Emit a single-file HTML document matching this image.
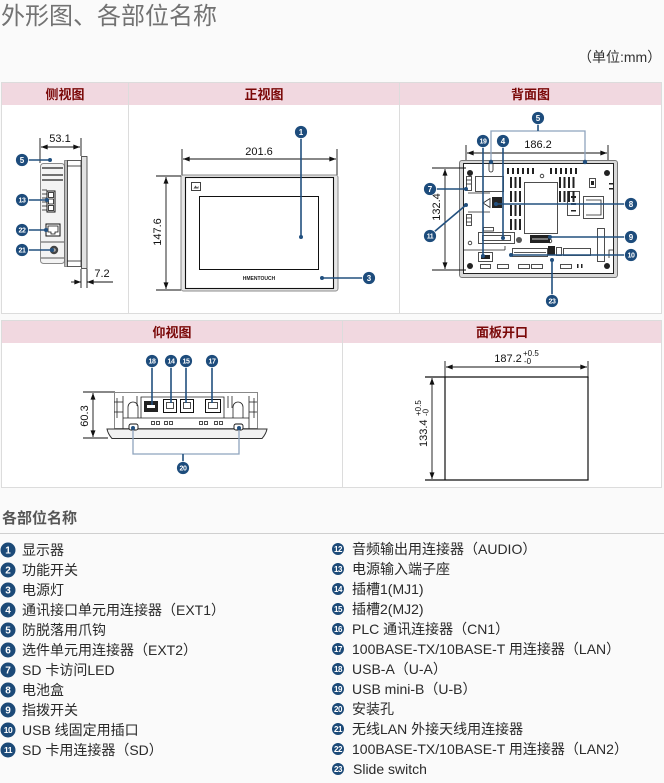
<!DOCTYPE html>
<html><head><meta charset="utf-8">
<style>
html,body{margin:0;padding:0;}
body{width:664px;height:783px;position:relative;overflow:hidden;background:#fafafa;font-family:"Liberation Sans","Noto Sans CJK SC",sans-serif;color:#2a2a2a;}
.abs{position:absolute;}
.title{left:1px;top:1px;font-size:24px;color:#727272;line-height:31px;white-space:nowrap;}
.unit{left:578px;top:47px;font-size:14px;line-height:20px;color:#333;white-space:nowrap;}
.tbl{position:absolute;background:#fff;border:1px solid #dcdcdc;box-sizing:border-box;}
.hd{position:absolute;top:0;height:22px;background:#f1d8e0;color:#7a0808;font-weight:bold;font-size:13px;line-height:23px;text-align:center;font-family:"Liberation Sans","Noto Sans CJK SC",sans-serif;}
.vl{position:absolute;top:0;bottom:0;width:1px;background:#dcdcdc;}
.lg{position:absolute;font-size:14px;line-height:20px;white-space:nowrap;color:#2a2a2a;}
.lt{position:absolute;left:2px;top:508px;font-size:15px;font-weight:bold;color:#555;line-height:22px;}
.rule{position:absolute;left:0;top:533px;width:664px;height:1px;background:#cfcfcf;}
svg text{font-family:"Liberation Sans","Noto Sans CJK SC",sans-serif;}
.cc{fill:#1d4c7c;stroke:#fff;stroke-width:.8}
.ct{fill:#fff;font-size:8px;font-weight:bold;text-anchor:middle}
.ct2{fill:#fff;font-size:7px;font-weight:bold;text-anchor:middle;letter-spacing:-0.4px}
.cl{stroke:#22507f;stroke-width:1.6;fill:none}
.cd{fill:#22507f}
.dm{stroke:#111;stroke-width:.9;fill:none}
.dt{font-size:11px;fill:#111}
.k{stroke:#222;stroke-width:.8;fill:none}
.kf{fill:#222}
.lc{fill:#1c4a78}
.ln{fill:#fff;font-size:10px;font-weight:bold;text-anchor:middle}
.ln2{fill:#fff;font-size:8.5px;font-weight:bold;text-anchor:middle;letter-spacing:-0.5px}
.rn{fill:#fff;font-size:8px;font-weight:bold;text-anchor:middle;letter-spacing:-0.4px}
</style></head><body>

<div class="abs title">外形图、各部位名称</div>
<div class="abs unit">（单位:mm）</div>

<div class="tbl" style="left:1px;top:82px;width:661px;height:232px;">
  <div class="hd" style="left:0;width:126px;">侧视图</div>
  <div class="hd" style="left:127px;width:270px;">正视图</div>
  <div class="hd" style="left:398px;width:261px;">背面图</div>
  <div class="vl" style="left:126px;"></div>
  <div class="vl" style="left:397px;"></div>
</div>

<div class="tbl" style="left:1px;top:320px;width:661px;height:168px;">
  <div class="hd" style="left:0;width:340px;">仰视图</div>
  <div class="hd" style="left:341px;width:318px;">面板开口</div>
  <div class="vl" style="left:340px;"></div>
</div>

<div class="lt">各部位名称</div>
<div class="rule"></div>

<div class="lg" style="left:22px;top:540px;">显示器</div>
<div class="lg" style="left:22px;top:560px;">功能开关</div>
<div class="lg" style="left:22px;top:580px;">电源灯</div>
<div class="lg" style="left:22px;top:600px;">通讯接口单元用连接器（EXT1）</div>
<div class="lg" style="left:22px;top:620px;">防脱落用爪钩</div>
<div class="lg" style="left:22px;top:640px;">选件单元用连接器（EXT2）</div>
<div class="lg" style="left:22px;top:660px;">SD 卡访问LED</div>
<div class="lg" style="left:22px;top:680px;">电池盒</div>
<div class="lg" style="left:22px;top:700px;">指拨开关</div>
<div class="lg" style="left:22px;top:720px;">USB 线固定用插口</div>
<div class="lg" style="left:22px;top:740px;">SD 卡用连接器（SD）</div>

<div class="lg" style="left:352px;top:539px;">音频输出用连接器（AUDIO）</div>
<div class="lg" style="left:352px;top:559px;">电源输入端子座</div>
<div class="lg" style="left:352px;top:579px;">插槽1(MJ1)</div>
<div class="lg" style="left:352px;top:599px;">插槽2(MJ2)</div>
<div class="lg" style="left:352px;top:619px;">PLC 通讯连接器（CN1）</div>
<div class="lg" style="left:352px;top:639px;">100BASE-TX/10BASE-T 用连接器（LAN）</div>
<div class="lg" style="left:352px;top:659px;">USB-A（U-A）</div>
<div class="lg" style="left:352px;top:679px;">USB mini-B（U-B）</div>
<div class="lg" style="left:352px;top:699px;">安装孔</div>
<div class="lg" style="left:352px;top:719px;">无线LAN 外接天线用连接器</div>
<div class="lg" style="left:352px;top:739px;">100BASE-TX/10BASE-T 用连接器（LAN2）</div>
<div class="lg" style="left:353px;top:759px;">Slide switch</div>

<svg class="abs" style="left:0;top:0" width="664" height="783" viewBox="0 0 664 783" xmlns="http://www.w3.org/2000/svg">
<defs>
<marker id="ar" viewBox="0 0 8 6" refX="8" refY="3" markerWidth="7" markerHeight="5" markerUnits="userSpaceOnUse" orient="auto-start-reverse"><path d="M0,0L8,3L0,6z" fill="#111"/></marker>
</defs>

<!-- ================= SIDE VIEW ================= -->
<line class="dm" x1="40" y1="138" x2="40" y2="163"/>
<line class="dm" x1="81" y1="138" x2="81" y2="156"/>
<line class="dm" x1="41" y1="147" x2="80" y2="147" marker-start="url(#ar)" marker-end="url(#ar)"/>
<text class="dt" x="60" y="142" text-anchor="middle">53.1</text>

<rect x="40.5" y="163.5" width="24" height="100" rx="3" fill="#f3f3f3" stroke="#8a8a8a"/>
<rect x="64.5" y="160.5" width="3" height="106" fill="#bbb" stroke="#555" stroke-width=".6"/>
<rect x="67.5" y="160.5" width="13.5" height="106" fill="#fff" stroke="#333" stroke-width=".8"/>
<line class="k" x1="67" y1="166" x2="81" y2="166"/>
<line class="k" x1="67" y1="261" x2="81" y2="261"/>
<rect x="81.5" y="156.5" width="5.5" height="112" fill="#e2e2e2" stroke="#333" stroke-width=".8"/>
<line x1="42" y1="168" x2="63" y2="168" stroke="#222" stroke-width="1.2"/>
<line x1="42" y1="175" x2="63" y2="175" stroke="#222" stroke-width="1.2"/>
<line x1="42" y1="180" x2="63" y2="180" stroke="#222" stroke-width="1.2"/>
<line class="k" x1="42" y1="190" x2="47" y2="190"/>
<line class="k" x1="42" y1="194" x2="47" y2="194"/>
<line class="k" x1="42" y1="198" x2="47" y2="198"/>
<line class="k" x1="42" y1="202" x2="47" y2="202"/>
<line class="k" x1="42" y1="206" x2="47" y2="206"/>
<line class="k" x1="42" y1="210" x2="47" y2="210"/>
<rect x="47" y="191" width="8" height="21" fill="#fff" stroke="#111" stroke-width="1"/>
<rect x="48.5" y="192.5" width="5" height="5" fill="#fff" stroke="#111" stroke-width=".8"/>
<rect x="48.5" y="199" width="5" height="5" fill="#fff" stroke="#111" stroke-width=".8"/>
<rect x="48.5" y="205.5" width="5" height="5" fill="#fff" stroke="#111" stroke-width=".8"/>
<rect x="46" y="224" width="14" height="12" fill="#fff" stroke="#111" stroke-width="1"/>
<path d="M48,226h10v6h-3v2h-4v-2h-3z" fill="none" stroke="#111" stroke-width=".8"/>
<line class="k" x1="41" y1="242" x2="64" y2="242"/>
<circle cx="54" cy="250" r="4.2" fill="#444"/>
<circle cx="54" cy="250" r="1.8" fill="#aaa"/>
<line class="k" x1="41" y1="258" x2="64" y2="258"/>

<line class="dm" x1="81" y1="269" x2="81" y2="288"/>
<line class="dm" x1="87" y1="269" x2="87" y2="288"/>
<line class="dm" x1="71" y1="282" x2="81" y2="282" marker-end="url(#ar)"/>
<line class="dm" x1="113" y1="282" x2="87" y2="282" marker-end="url(#ar)"/>
<text class="dt" x="102" y="277" text-anchor="middle">7.2</text>

<line class="cl" x1="28" y1="160" x2="50" y2="160"/><circle class="cd" cx="50" cy="160" r="2"/>
<line class="cl" x1="28" y1="200" x2="47" y2="200"/><circle class="cd" cx="47" cy="200" r="2"/>
<line class="cl" x1="28" y1="230" x2="46" y2="230"/><circle class="cd" cx="46" cy="230" r="2"/>
<line class="cl" x1="28" y1="250" x2="52" y2="250"/><circle class="cd" cx="52" cy="250" r="2"/>
<circle class="cc" cx="22" cy="160" r="6.5"/><text class="ct" x="22" y="162.8">5</text>
<circle class="cc" cx="22" cy="200" r="6.5"/><text class="ct2" x="22" y="202.5">13</text>
<circle class="cc" cx="22" cy="230" r="6.5"/><text class="ct2" x="22" y="232.5">22</text>
<circle class="cc" cx="22" cy="250" r="6.5"/><text class="ct2" x="22" y="252.5">21</text>

<!-- ================= FRONT VIEW ================= -->
<line class="dm" x1="182" y1="149" x2="182" y2="175"/>
<line class="dm" x1="337" y1="149" x2="337" y2="175"/>
<line class="dm" x1="183" y1="159" x2="336" y2="159" marker-start="url(#ar)" marker-end="url(#ar)"/>
<text class="dt" x="259" y="155" text-anchor="middle">201.6</text>

<rect x="181" y="175" width="157" height="116" rx="2.5" fill="#e6e6e6" stroke="#8c8c8c" stroke-width="1"/>
<rect x="185.5" y="177.5" width="148" height="111" fill="#fff" stroke="#111" stroke-width="1.1"/>
<rect x="199.5" y="196.5" width="119" height="73" fill="#fff" stroke="#111" stroke-width="1"/>
<rect x="191.5" y="182.5" width="9" height="8" fill="#fff" stroke="#111" stroke-width=".8"/>
<path d="M193.5,188.5l2,-3l1.5,2l1.5,-1.5v2.5z" fill="#555"/>
<text x="259" y="280" font-size="5" font-weight="bold" text-anchor="middle" fill="#222">HMENTOUCH</text>

<line class="dm" x1="156" y1="176" x2="181" y2="176"/>
<line class="dm" x1="156" y1="290" x2="181" y2="290"/>
<line class="dm" x1="166" y1="177" x2="166" y2="289" marker-start="url(#ar)" marker-end="url(#ar)"/>
<text class="dt" transform="translate(161,232) rotate(-90)" text-anchor="middle">147.6</text>

<line class="cl" x1="301" y1="138" x2="301" y2="237"/><circle class="cd" cx="301" cy="237" r="2"/>
<line class="cl" x1="363" y1="278" x2="322" y2="278"/><circle class="cd" cx="322" cy="278" r="2"/>
<circle class="cc" cx="301" cy="132" r="6.5"/><text class="ct" x="301" y="134.8">1</text>
<circle class="cc" cx="369" cy="278" r="6.5"/><text class="ct" x="369" y="280.8">3</text>

<!-- ================= BACK VIEW ================= -->
<line class="dm" x1="466" y1="145" x2="466" y2="163"/>
<line class="dm" x1="608" y1="145" x2="608" y2="163"/>
<line class="dm" x1="467" y1="153" x2="607" y2="153" marker-start="url(#ar)" marker-end="url(#ar)"/>
<text class="dt" x="538" y="148" text-anchor="middle">186.2</text>

<rect x="459.5" y="160.5" width="158" height="117" rx="2.5" fill="#d9d9d9" stroke="#777"/>
<rect x="463.5" y="163.5" width="150" height="110" fill="#fff" stroke="#222" stroke-width="1"/>

<line class="dm" x1="432" y1="168" x2="466" y2="168"/>
<line class="dm" x1="432" y1="270" x2="466" y2="270"/>
<line class="dm" x1="445" y1="169" x2="445" y2="269" marker-start="url(#ar)" marker-end="url(#ar)"/>
<text class="dt" transform="translate(440,207) rotate(-90)" text-anchor="middle">132.4</text>

<circle class="kf" cx="470" cy="173" r="3"/>
<circle class="kf" cx="607" cy="173" r="3"/>
<circle class="kf" cx="470" cy="266" r="3"/>
<circle class="kf" cx="607" cy="266" r="3"/>
<g class="kf">
<rect x="507" y="168" width="2" height="6"/><rect x="512" y="168" width="2" height="6"/><rect x="517" y="168" width="2" height="6"/><rect x="522" y="168" width="2" height="6"/><rect x="527" y="168" width="2" height="6"/><rect x="532" y="168" width="2" height="6"/>
<rect x="550" y="168" width="2" height="6"/><rect x="555" y="168" width="2" height="6"/><rect x="560" y="168" width="2" height="6"/><rect x="565" y="168" width="2" height="6"/><rect x="570" y="168" width="2" height="6"/><rect x="575" y="168" width="2" height="6"/>
</g>
<circle class="k" cx="542" cy="176" r="1.8"/>
<circle class="k" cx="550" cy="241" r="1.8"/>
<circle class="k" cx="470" cy="243" r="1.8"/>
<rect class="k" x="475.5" y="176.5" width="28" height="15"/>
<g class="kf">
<rect x="510" y="177" width="2" height="11"/><rect x="514.5" y="177" width="2" height="11"/><rect x="519" y="177" width="2" height="11"/>
<rect x="510" y="191" width="2" height="11"/><rect x="514.5" y="191" width="2" height="11"/><rect x="519" y="191" width="2" height="11"/>
<rect x="510" y="205" width="2" height="11"/><rect x="514.5" y="205" width="2" height="11"/><rect x="519" y="205" width="2" height="11"/>
<rect x="510" y="219" width="2" height="11"/><rect x="514.5" y="219" width="2" height="11"/><rect x="519" y="219" width="2" height="11"/>
<rect x="559" y="177" width="2" height="11"/><rect x="563.5" y="177" width="2" height="11"/><rect x="568" y="177" width="2" height="11"/><rect x="572.5" y="177" width="2" height="11"/>
<rect x="559" y="191" width="2" height="11"/><rect x="563.5" y="191" width="2" height="11"/><rect x="568" y="191" width="2" height="11"/><rect x="572.5" y="191" width="2" height="11"/>
</g>
<rect class="k" x="524.5" y="182.5" width="33" height="51"/>
<rect class="kf" x="492" y="197" width="10" height="11"/>
<path class="k" d="M483,203L490,198.5V207.5Z"/>
<rect class="k" x="483.5" y="227.5" width="10" height="3.5"/>
<rect class="k" x="478.5" y="232.5" width="36" height="11"/>
<rect class="k" x="482.5" y="235.5" width="28" height="5"/>
<circle cx="519" cy="240" r="3" fill="#555"/>
<rect class="kf" x="530" y="235" width="20" height="8"/>
<line x1="532" y1="239" x2="548" y2="239" stroke="#fff" stroke-width=".8"/>
<rect class="k" x="567.5" y="191.5" width="12" height="24"/>
<rect class="kf" x="571" y="196" width="5" height="2"/>
<rect class="kf" x="571" y="203" width="5" height="2"/>
<rect class="kf" x="571" y="210" width="5" height="1.5"/>
<rect class="k" x="583.5" y="196.5" width="20" height="22"/>
<path class="k" d="M586,200h15v15h-15"/>
<rect class="k" x="589.5" y="178.5" width="6" height="9"/>
<rect class="kf" x="591" y="181" width="3" height="4"/>
<rect class="k" x="466.5" y="176.5" width="5" height="14"/>
<line class="k" x1="466" y1="180" x2="471" y2="180"/>
<line class="k" x1="466" y1="184" x2="471" y2="184"/>
<rect class="k" x="466.5" y="214.5" width="5" height="11"/>
<line class="k" x1="466" y1="218" x2="471" y2="218"/>
<line class="k" x1="466" y1="222" x2="471" y2="222"/>
<line class="k" x1="468" y1="193" x2="490" y2="193"/>
<line class="k" x1="468" y1="212" x2="490" y2="212"/>
<line class="k" x1="464" y1="250" x2="505" y2="250"/>
<line class="k" x1="505" y1="250" x2="505" y2="246"/>
<rect class="k" x="478.5" y="252.5" width="14" height="9"/>
<rect class="kf" x="481" y="255" width="9" height="4"/>
<rect class="k" x="480.5" y="264.5" width="10" height="4"/>
<rect class="k" x="497.5" y="264.5" width="11" height="4"/>
<rect class="k" x="518.5" y="264.5" width="11" height="4"/>
<rect class="k" x="531.5" y="264.5" width="11" height="4"/>
<rect class="k" x="560.5" y="264.5" width="11" height="4"/>
<rect class="kf" x="577" y="264" width="1.5" height="4"/><rect class="kf" x="581" y="264" width="1.5" height="4"/>
<rect class="k" x="512.5" y="248.5" width="35" height="8"/>
<line class="k" x1="514" y1="252.5" x2="546" y2="252.5"/>
<rect class="kf" x="548" y="246" width="7" height="9"/>
<rect class="k" x="556.5" y="247.5" width="5" height="8"/>
<rect class="k" x="563.5" y="248.5" width="27" height="7"/>
<rect class="k" x="597.5" y="228.5" width="7" height="33"/>
<path class="k" d="M609,258v-8h4"/>
<rect class="kf" x="609" y="183" width="4" height="1.5"/><rect class="kf" x="609" y="188" width="4" height="1.5"/>
<polyline points="491,162 491,131 585,131 585,162" fill="none" stroke="#8ea3bd" stroke-width="1.3"/>
<line class="cl" x1="538" y1="124" x2="538" y2="131"/>
<circle class="cd" cx="491" cy="162" r="2.2"/><circle class="cd" cx="585" cy="162" r="2.2"/>
<path class="k" d="M489,164v6a2,2 0 0 0 4,0v-6"/>
<line class="cl" x1="483" y1="147" x2="483" y2="256"/><circle class="cd" cx="483" cy="256" r="2"/>
<line class="cl" x1="503" y1="147" x2="503" y2="238"/><circle class="cd" cx="503" cy="238" r="2"/>
<line class="cl" x1="436" y1="189" x2="466" y2="189"/><circle class="cd" cx="466" cy="189" r="2"/>
<line class="cl" x1="434" y1="232" x2="466" y2="205"/><circle class="cd" cx="466" cy="205" r="2"/>
<line class="cl" x1="625" y1="204" x2="496" y2="204"/><circle class="cd" cx="496" cy="204" r="2"/>
<line class="cl" x1="625" y1="237" x2="550" y2="237"/><circle class="cd" cx="550" cy="237" r="2"/>
<line class="cl" x1="625" y1="255" x2="511" y2="255"/><circle class="cd" cx="511" cy="255" r="2"/>
<line class="cl" x1="552" y1="295" x2="552" y2="260"/><circle class="cd" cx="552" cy="260" r="2"/>
<circle class="cc" cx="538" cy="118" r="6.5"/><text class="ct" x="538" y="120.8">5</text>
<circle class="cc" cx="483" cy="141" r="6.5"/><text class="ct2" x="483" y="143.5">19</text>
<circle class="cc" cx="503" cy="141" r="6.5"/><text class="ct" x="503" y="143.8">4</text>
<circle class="cc" cx="430" cy="189" r="6.5"/><text class="ct" x="430" y="191.8">7</text>
<circle class="cc" cx="430" cy="236" r="6.5"/><text class="ct2" x="430" y="238.5">11</text>
<circle class="cc" cx="631" cy="204" r="6.5"/><text class="ct" x="631" y="206.8">8</text>
<circle class="cc" cx="631" cy="237" r="6.5"/><text class="ct" x="631" y="239.8">9</text>
<circle class="cc" cx="631" cy="255" r="6.5"/><text class="ct2" x="631" y="257.5">10</text>
<circle class="cc" cx="552" cy="301" r="6.5"/><text class="ct2" x="552" y="303.5">23</text>

<!-- ================= BOTTOM VIEW ================= -->
<line class="dm" x1="83" y1="392" x2="115" y2="392"/>
<line class="dm" x1="83" y1="438" x2="108" y2="438"/>
<line class="dm" x1="93" y1="393" x2="93" y2="437" marker-start="url(#ar)" marker-end="url(#ar)"/>
<text class="dt" transform="translate(88,416) rotate(-90)" text-anchor="middle">60.3</text>

<rect x="114.5" y="392.5" width="143" height="36" fill="#fff" stroke="#888" stroke-width="1"/>
<line class="k" x1="123" y1="396" x2="123" y2="429"/>
<line class="k" x1="249" y1="396" x2="249" y2="429"/>
<line class="k" x1="117" y1="398" x2="117" y2="418"/>
<line class="k" x1="254" y1="398" x2="254" y2="418"/>
<line class="k" x1="114" y1="402" x2="123" y2="402"/>
<line class="k" x1="114" y1="412" x2="123" y2="412"/>
<line class="k" x1="249" y1="402" x2="257" y2="402"/>
<line class="k" x1="249" y1="412" x2="257" y2="412"/>
<line class="k" x1="123" y1="418" x2="249" y2="418"/>
<path class="k" d="M141,418V397H224V418"/>
<line class="k" x1="228" y1="396" x2="228" y2="408"/>
<line class="k" x1="232" y1="396" x2="232" y2="408"/>
<line class="k" x1="137" y1="396" x2="137" y2="406"/>
<rect class="kf" x="144" y="401" width="14" height="11"/>
<rect x="147" y="405" width="8" height="3" fill="#fff"/>
<rect x="163.5" y="399.5" width="13" height="13" fill="#fff" stroke="#111" stroke-width="1"/>
<rect class="k" x="166.5" y="402.5" width="7" height="6"/>
<rect x="180.5" y="399.5" width="13" height="13" fill="#fff" stroke="#111" stroke-width="1"/>
<rect class="k" x="183.5" y="402.5" width="7" height="6"/>
<rect x="205.5" y="399.5" width="15" height="13" fill="#fff" stroke="#111" stroke-width="1"/>
<rect class="k" x="208.5" y="402.5" width="9" height="6"/>
<g class="k">
<rect x="151.5" y="421.5" width="3" height="3"/><rect x="156.5" y="421.5" width="3" height="3"/>
<rect x="164.5" y="421.5" width="3" height="3"/><rect x="169.5" y="421.5" width="3" height="3"/>
<rect x="199.5" y="421.5" width="3" height="3"/><rect x="204.5" y="421.5" width="3" height="3"/>
<rect x="214.5" y="421.5" width="3" height="3"/><rect x="219.5" y="421.5" width="3" height="3"/>
</g>
<path class="k" d="M128,418V407a5,5 0 0 1 10,0V418"/>
<path class="k" d="M233,418V407a5,5 0 0 1 10,0V418"/>
<path d="M107,429L267,429Q266,434 262,438.5L112,438.5Q108,434 107,429Z" fill="#f2f2f2" stroke="#333" stroke-width="1"/>
<rect x="129" y="424" width="9" height="6" rx="2" fill="#fff" stroke="#111" stroke-width=".9"/>
<rect x="234" y="424" width="9" height="6" rx="2" fill="#fff" stroke="#111" stroke-width=".9"/>
<line class="cl" x1="152" y1="367" x2="152" y2="405"/>
<line class="cl" x1="171" y1="367" x2="171" y2="403"/>
<line class="cl" x1="186" y1="367" x2="186" y2="403"/>
<line class="cl" x1="212" y1="367" x2="212" y2="403"/>
<polyline points="133,427 133,454 239,454 239,427" fill="none" stroke="#8ea3bd" stroke-width="1.3"/>
<circle class="cd" cx="133" cy="428" r="2"/><circle class="cd" cx="239" cy="428" r="2"/>
<line class="cl" x1="183" y1="454" x2="183" y2="462"/>
<circle class="cc" cx="152" cy="361" r="6.5"/><text class="ct2" x="152" y="363.5">18</text>
<circle class="cc" cx="171" cy="361" r="6.5"/><text class="ct2" x="171" y="363.5">14</text>
<circle class="cc" cx="186" cy="361" r="6.5"/><text class="ct2" x="186" y="363.5">15</text>
<circle class="cc" cx="212" cy="361" r="6.5"/><text class="ct2" x="212" y="363.5">17</text>
<circle class="cc" cx="183" cy="468" r="6.5"/><text class="ct2" x="183" y="470.5">20</text>

<!-- ================= PANEL CUTOUT ================= -->
<line class="dm" x1="445" y1="361" x2="445" y2="480"/>
<line class="dm" x1="588" y1="361" x2="588" y2="480"/>
<line x1="445" y1="377" x2="445" y2="480" stroke="#111" stroke-width="1.2"/>
<line x1="588" y1="377" x2="588" y2="480" stroke="#111" stroke-width="1.2"/>
<line class="dm" x1="446" y1="367" x2="587" y2="367" marker-start="url(#ar)" marker-end="url(#ar)"/>
<line x1="425" y1="377" x2="588.6" y2="377" stroke="#111" stroke-width="1.2"/>
<line x1="425" y1="480" x2="588.6" y2="480" stroke="#111" stroke-width="1.2"/>
<line class="dm" x1="432" y1="378" x2="432" y2="479" marker-start="url(#ar)" marker-end="url(#ar)"/>
<text class="dt" x="508" y="362" text-anchor="middle">187.2</text>
<text x="523" y="356" font-size="8" fill="#111">+0.5</text>
<text x="524" y="364" font-size="8" fill="#111">-0</text>
<g transform="translate(427,447) rotate(-90)">
<text class="dt" x="0" y="0">133.4</text>
<text x="31" y="-6" font-size="8" fill="#111">+0.5</text>
<text x="31" y="1.5" font-size="8" fill="#111">-0</text>
</g>

<!-- ================= LEGEND ICONS ================= -->
<g>
<circle class="lc" cx="8" cy="550" r="7.5"/><text class="ln" x="8" y="553.5">1</text>
<circle class="lc" cx="8" cy="570" r="7.5"/><text class="ln" x="8" y="573.5">2</text>
<circle class="lc" cx="8" cy="590" r="7.5"/><text class="ln" x="8" y="593.5">3</text>
<circle class="lc" cx="8" cy="610" r="7.5"/><text class="ln" x="8" y="613.5">4</text>
<circle class="lc" cx="8" cy="630" r="7.5"/><text class="ln" x="8" y="633.5">5</text>
<circle class="lc" cx="8" cy="650" r="7.5"/><text class="ln" x="8" y="653.5">6</text>
<circle class="lc" cx="8" cy="670" r="7.5"/><text class="ln" x="8" y="673.5">7</text>
<circle class="lc" cx="8" cy="690" r="7.5"/><text class="ln" x="8" y="693.5">8</text>
<circle class="lc" cx="8" cy="710" r="7.5"/><text class="ln" x="8" y="713.5">9</text>
<circle class="lc" cx="8" cy="730" r="7.5"/><text class="ln2" x="8" y="733">10</text>
<circle class="lc" cx="8" cy="750" r="7.5"/><text class="ln2" x="8" y="753">11</text>
</g>
<g>
<circle class="lc" cx="338" cy="549" r="6"/><text class="rn" x="338" y="552">12</text>
<circle class="lc" cx="338" cy="569" r="6"/><text class="rn" x="338" y="572">13</text>
<circle class="lc" cx="338" cy="589" r="6"/><text class="rn" x="338" y="592">14</text>
<circle class="lc" cx="338" cy="609" r="6"/><text class="rn" x="338" y="612">15</text>
<circle class="lc" cx="338" cy="629" r="6"/><text class="rn" x="338" y="632">16</text>
<circle class="lc" cx="338" cy="649" r="6"/><text class="rn" x="338" y="652">17</text>
<circle class="lc" cx="338" cy="669" r="6"/><text class="rn" x="338" y="672">18</text>
<circle class="lc" cx="338" cy="689" r="6"/><text class="rn" x="338" y="692">19</text>
<circle class="lc" cx="338" cy="709" r="6"/><text class="rn" x="338" y="712">20</text>
<circle class="lc" cx="338" cy="729" r="6"/><text class="rn" x="338" y="732">21</text>
<circle class="lc" cx="338" cy="749" r="6"/><text class="rn" x="338" y="752">22</text>
<circle class="lc" cx="338" cy="769" r="6"/><text class="rn" x="338" y="772">23</text>
</g>
</svg>
</body></html>
